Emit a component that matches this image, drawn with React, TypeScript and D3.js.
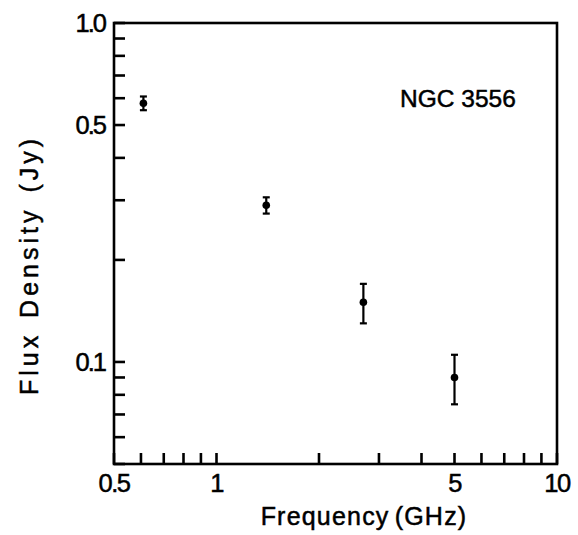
import * as d3 from 'd3'

const freqGHz = [0.61, 1.4, 2.7, 5.0]
const fluxJy = [0.58, 0.29, 0.15, 0.09]
const fluxErr = [0.027, 0.016, 0.02, 0.015]

const xTicks = [0.5, 0.6, 0.7, 0.8, 0.9, 1, 2, 3, 4, 5, 6, 7, 8, 9, 10]
const xTickLabels = ['0.5', '1', '5', '10']
const yTicks = [0.05, 0.06, 0.07, 0.08, 0.09, 0.1, 0.2, 0.3, 0.4, 0.5, 0.6, 0.7, 0.8, 0.9, 1.0]
const yTickLabels = ['0.1', '0.5', '1.0']

const W = 578
const H = 535
const left = 114
const right = 557
const top = 23
const bottom = 464

export default function App() {
  const x = d3.scaleLog().domain([0.5, 10]).range([left, right])
  const y = d3.scaleLog().domain([0.05, 1.0]).range([bottom, top])
  const font = '"Liberation Sans", Arial, sans-serif'
  const tickLen = 11
  // slight outline makes the type look like the heavier print in the scan
  const ink = { fill: '#000', stroke: '#000', strokeWidth: 0.5 }

  return (
    <svg width={W} height={H} style={{ position: 'absolute', left: 0, top: 0, background: '#fff' }}>
      {/* ticks, inward on left and bottom only */}
      {xTicks.map(t => (
        <line key={'xt' + t} x1={x(t)} x2={x(t)} y1={bottom} y2={bottom - tickLen} stroke="#000" strokeWidth={2.6} />
      ))}
      {yTicks.map(t => (
        <line key={'yt' + t} x1={left} x2={left + tickLen} y1={y(t)} y2={y(t)} stroke="#000" strokeWidth={2.6} />
      ))}
      <rect x={left} y={top} width={right - left} height={bottom - top} fill="none" stroke="#000" strokeWidth={2.6} />

      {xTickLabels.map(l => (
        <text key={'xl' + l} x={x(+l)} y={492} textAnchor="middle" fontFamily={font} fontSize={25.5}
          letterSpacing={-1.5} {...ink}>{l}</text>
      ))}
      {yTickLabels.map(l => (
        <text key={'yl' + l} x={105} y={y(+l) + 9} textAnchor="end" fontFamily={font} fontSize={25.5}
          letterSpacing={-2} {...ink}>{l}</text>
      ))}

      {/* error bars + points */}
      {freqGHz.map((f, i) => {
        const cx = x(f)
        const y0 = y(fluxJy[i] + fluxErr[i])
        const y1 = y(fluxJy[i] - fluxErr[i])
        return (
          <g key={'p' + i} stroke="#000" strokeWidth={2.2}>
            <line x1={cx} x2={cx} y1={y0} y2={y1} />
            <line x1={cx - 3.5} x2={cx + 3.5} y1={y0} y2={y0} />
            <line x1={cx - 3.5} x2={cx + 3.5} y1={y1} y2={y1} />
            <circle cx={cx} cy={y(fluxJy[i])} r={3.8} fill="#000" stroke="none" />
          </g>
        )
      })}

      <text x={400} y={107} fontFamily={font} fontSize={24.5} {...ink}>NGC 3556</text>

      <text x={364} y={525} textAnchor="middle" fontFamily={font} fontSize={25} letterSpacing={1.2}
        wordSpacing={-3} {...ink}>
        Frequency (GHz)
      </text>
      <text transform="translate(38,265) rotate(-90)" textAnchor="middle" fontFamily={font} fontSize={25}
        letterSpacing={4} wordSpacing={3} {...ink}>
        Flux Density (Jy)
      </text>
    </svg>
  )
}
